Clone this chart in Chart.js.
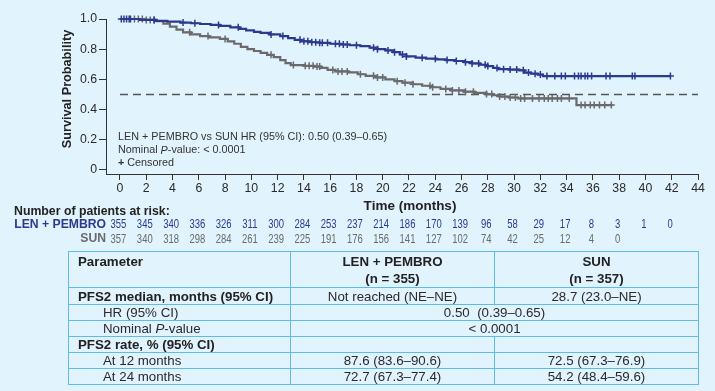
<!DOCTYPE html>
<html><head><meta charset="utf-8">
<script src="https://cdn.jsdelivr.net/npm/chart.js@4.4.0/dist/chart.umd.min.js"></script>
<style>
html,body{margin:0;padding:0;background:#E1F3FC;width:715px;height:391px;overflow:hidden;font-family:"Liberation Sans",Arial,sans-serif;}
#wrap{position:relative;width:715px;height:391px;}
#c{position:absolute;left:0;top:0;}
#t{position:absolute;left:68px;top:251px;border-collapse:collapse;table-layout:fixed;width:630px;font-size:13.3px;color:#2a2a2a;}
#t td{border:1px solid #5DBDE6;padding:0;line-height:15px;white-space:nowrap;overflow:hidden;}
#t .b{font-weight:bold;color:#222;}
#t .l{padding-left:9px;}
#t .i{padding-left:34px;}
#t .c{text-align:center;}
#t tr.h td{vertical-align:top;padding-top:1px;line-height:17px;}
</style></head>
<body><div id="wrap">
<canvas id="c" width="715" height="391"></canvas>
<table id="t">
<colgroup><col style="width:222px"><col style="width:204px"><col style="width:204px"></colgroup>
<tr class="h" style="height:32px"><td class="b l">Parameter</td><td class="b c">LEN + PEMBRO<br>(n = 355)</td><td class="b c">SUN<br>(n = 357)</td></tr>
<tr style="height:17px"><td class="b l">PFS2 median, months (95% CI)</td><td class="c">Not reached (NE–NE)</td><td class="c">28.7 (23.0–NE)</td></tr>
<tr style="height:16px"><td class="i">HR (95% CI)</td><td class="c" colspan="2">0.50&nbsp; (0.39–0.65)</td></tr>
<tr style="height:16px"><td class="i">Nominal <i>P</i>-value</td><td class="c" colspan="2">&lt; 0.0001</td></tr>
<tr style="height:16px"><td class="b l">PFS2 rate, % (95% CI)</td><td></td><td></td></tr>
<tr style="height:16px"><td class="i">At 12 months</td><td class="c">87.6 (83.6–90.6)</td><td class="c">72.5 (67.3–76.9)</td></tr>
<tr style="height:16px"><td class="i">At 24 months</td><td class="c">72.7 (67.3–77.4)</td><td class="c">54.2 (48.4–59.6)</td></tr>
</table>
</div>
<script>
// ---- data ----
const xTicks = [0,2,4,6,8,10,12,14,16,18,20,22,24,26,28,30,32,34,36,38,40,42,44];
const yTicks = [0,0.2,0.4,0.6,0.8,1.0];

const lenTime = [0,1.5,2.7,3.6,4.6,5.4,6.1,6.9,7.6,8.4,9.1,9.6,10.2,10.7,11.4,12.2,12.8,13.3,13.8,14.5,15.2,16.0,16.8,17.5,18.3,19.0,19.6,20.2,20.8,21.3,21.8,22.5,23.3,24.1,24.8,25.5,26.2,26.8,27.4,27.9,28.4,28.8,29.6,30.4,30.8,31.3,31.8,32.2,41.9];
const lenSurv = [1.0,0.994,0.987,0.982,0.976,0.972,0.967,0.961,0.954,0.945,0.934,0.925,0.915,0.908,0.898,0.887,0.873,0.862,0.852,0.846,0.842,0.836,0.831,0.826,0.820,0.810,0.800,0.792,0.780,0.765,0.752,0.744,0.737,0.732,0.728,0.722,0.714,0.706,0.697,0.688,0.676,0.668,0.665,0.660,0.645,0.638,0.632,0.622,0.622];
const lenCensor = [0.1,0.3,0.5,0.7,0.8,2.6,4.8,5.7,7.5,9.0,11.5,12.4,13.7,14.0,14.3,14.6,14.9,15.2,15.4,15.8,16.4,16.7,17.0,17.3,18.0,19.3,19.6,20.4,20.9,21.5,21.8,23.0,24.0,24.9,25.6,26.3,26.8,27.3,27.8,28.0,28.7,29.2,29.7,30.2,30.7,31.1,31.6,32.0,32.5,33.1,33.6,33.9,34.6,34.9,35.1,35.4,35.6,35.9,37.0,37.3,39.0,39.2,41.9];

const sunTime = [0,1.8,2.8,3.3,3.8,4.3,4.8,5.4,6.1,6.8,7.6,8.2,8.7,9.2,9.7,10.2,10.7,11.2,11.7,12.2,12.6,13.0,14.0,14.8,15.3,15.8,16.4,17.4,18.1,18.7,19.5,20.2,20.9,21.5,22.3,23.0,23.7,24.4,25.2,26.2,27.0,27.9,28.4,28.9,29.6,30.3,34.75,37.5];
const sunSurv = [1.0,0.994,0.986,0.970,0.950,0.930,0.912,0.898,0.887,0.878,0.868,0.852,0.836,0.816,0.800,0.788,0.776,0.763,0.748,0.728,0.708,0.695,0.690,0.685,0.676,0.663,0.653,0.646,0.634,0.624,0.613,0.600,0.588,0.578,0.568,0.558,0.548,0.537,0.527,0.519,0.511,0.503,0.495,0.486,0.480,0.474,0.430,0.430];
const sunCensor = [1.1,1.4,1.7,2.0,2.3,2.6,5.3,6.7,8.0,11.5,13.2,14.1,14.4,14.7,15.0,15.2,16.2,16.6,16.9,17.3,18.3,19.3,19.6,20.0,21.1,21.7,22.3,23.6,23.8,24.8,25.3,25.8,26.3,26.9,27.9,28.3,28.9,29.3,29.7,30.1,30.5,30.8,31.4,31.9,32.3,32.6,32.9,33.3,33.6,34.2,35.1,35.4,35.8,36.1,36.5,36.9,37.4];

const riskTimes = xTicks;
const lenRisk = [355,345,340,336,326,311,300,284,253,237,214,186,170,139,96,58,29,17,8,3,1,0];
const sunRisk = [357,340,318,298,284,261,239,225,191,176,156,141,127,102,74,42,25,12,4,0];

const medianLine = [0.5,0.5];
const medianX = [0,44];

// ---- helpers ----
const BLUE = '#2B3A8F', GRAY = '#6A6A6C', FONT = '"Liberation Sans", Arial, sans-serif';
function stepAt(times, surv, t){ let v = surv[0]; for(let i=0;i<times.length;i++){ if(times[i]<=t) v=surv[i]; } return v; }
const toPts = (xs, ys) => xs.map((x,i)=>({x, y: ys[i]}));

const overlay = {
  id:'overlay',
  afterDraw(chart){
    const ctx = chart.ctx, xs = chart.scales.x;
    ctx.save();
    ctx.textBaseline = 'middle';
    // annotation text
    ctx.fillStyle = '#333';
    ctx.textAlign = 'left';
    const reg = '10.8px ' + FONT;
    ctx.font = reg;
    ctx.fillText('LEN + PEMBRO vs SUN HR (95% CI): 0.50 (0.39–0.65)', 118, 137.5);
    let x = 118;
    ctx.fillText('Nominal ', x, 150.5); x += ctx.measureText('Nominal ').width;
    ctx.font = 'italic ' + reg; ctx.fillText('P', x, 150.5); x += ctx.measureText('P').width;
    ctx.font = reg; ctx.fillText('-value: < 0.0001', x, 150.5);
    ctx.font = 'bold ' + reg; ctx.fillText('+', 118, 163.5); x = 118 + ctx.measureText('+').width;
    ctx.font = reg; ctx.fillText(' Censored', x, 163.5);
    // axis titles
    ctx.fillStyle = '#222';
    ctx.font = 'bold 13.5px ' + FONT; ctx.textAlign = 'center';
    ctx.fillText('Time (months)', 410, 206);
    ctx.save(); ctx.translate(67, 89); ctx.rotate(-Math.PI/2);
    ctx.font = 'bold 12.7px ' + FONT; ctx.fillText('Survival Probability', 0, 0); ctx.restore();
    // risk table
    ctx.textAlign = 'left'; ctx.font = 'bold 12.3px ' + FONT; ctx.fillStyle = '#222';
    ctx.fillText('Number of patients at risk:', 14, 211.5);
    ctx.textAlign = 'right'; ctx.font = 'bold 12.2px ' + FONT;
    ctx.fillStyle = BLUE; ctx.fillText('LEN + PEMBRO', 106, 224.5);
    ctx.fillStyle = GRAY; ctx.fillText('SUN', 106, 239);
    ctx.font = '12.8px ' + FONT; ctx.textAlign = 'center';
    const drawRow = (vals, y, col) => {
      ctx.fillStyle = col;
      vals.forEach((v,i)=>{
        const px = xs.getPixelForValue(riskTimes[i]);
        ctx.save(); ctx.translate(px - 1.5, y); ctx.scale(0.74, 1); ctx.fillText(String(v), 0, 0); ctx.restore();
      });
    };
    drawRow(lenRisk, 224.5, BLUE);
    drawRow(sunRisk, 239, GRAY);
    ctx.restore();
  }
};

Chart.defaults.font.family = FONT;
new Chart(document.getElementById('c'), {
  type: 'line',
  data: {
    datasets: [
      { data: toPts(medianX, medianLine), borderColor:'#555', borderWidth:1.3, borderDash:[8,5], pointRadius:0, order:3 },
      { data: toPts(sunTime, sunSurv), borderColor: GRAY, borderWidth: 2.2, stepped: 'before', pointRadius: 0, clip: false, order:2 },
      { data: sunCensor.map(t=>({x:t, y: stepAt(sunTime, sunSurv, t)})), showLine:false, pointStyle:'cross', pointRadius:3.5, borderColor: GRAY, borderWidth:1.5, clip:false, order:2 },
      { data: toPts(lenTime, lenSurv), borderColor: BLUE, borderWidth: 2.2, stepped: 'before', pointRadius: 0, clip: false, order:1 },
      { data: lenCensor.map(t=>({x:t, y: stepAt(lenTime, lenSurv, t)})), showLine:false, pointStyle:'cross', pointRadius:3.5, borderColor: BLUE, borderWidth:1.5, clip:false, order:1 }
    ]
  },
  options: {
    responsive: false, animation: false, devicePixelRatio: 1,
    layout: { padding: { left: 0, top: 19, right: 17, bottom: 187 } },
    plugins: { legend: { display: false }, tooltip: { enabled: false } },
    elements: { line: { tension: 0 } },
    scales: {
      x: {
        type: 'linear', min: -1.065, max: 44,
        afterBuildTicks: s => { s.ticks = xTicks.map(v=>({value:v})); },
        afterFit: s => { s.height = 30; },
        grid: { drawOnChartArea: false, drawTicks: true, tickLength: 6, color: '#333', lineWidth: 1 },
        border: { display: true, color: '#333', width: 1 },
        ticks: { padding: 1, color: '#2a2a2a', font: { size: 12.3 }, maxRotation: 0, autoSkip: false, callback: v => String(v) }
      },
      y: {
        type: 'linear', min: -0.0265, max: 1.0,
        afterBuildTicks: s => { s.ticks = yTicks.map(v=>({value:v})); },
        afterFit: s => { s.width = 106; },
        grid: { drawOnChartArea: false, drawTicks: true, tickLength: 7, color: '#333', lineWidth: 1 },
        border: { display: true, color: '#333', width: 1 },
        ticks: { padding: 2, color: '#2a2a2a', font: { size: 12.3 }, autoSkip: false, callback: v => v === 0 ? '0' : v.toFixed(1) }
      }
    }
  },
  plugins: [overlay]
});
</script>
</body></html>
